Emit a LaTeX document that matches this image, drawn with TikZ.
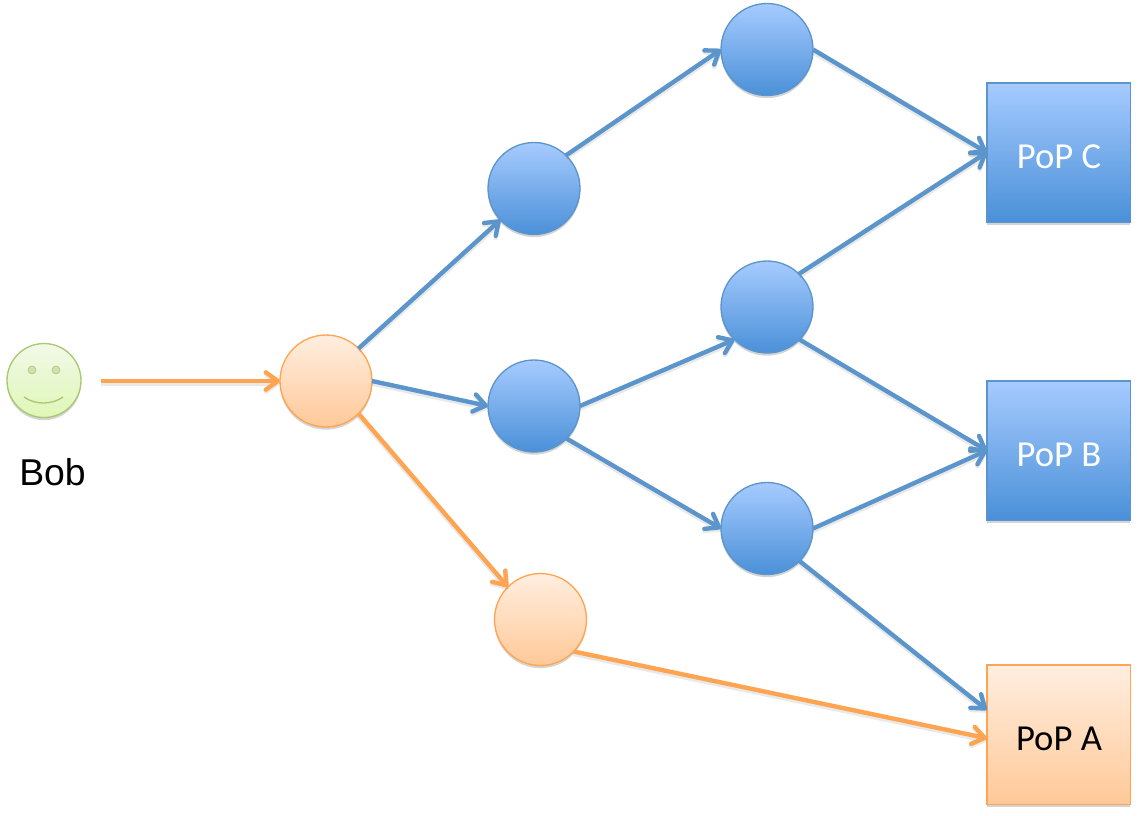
\documentclass[tikz,border=0pt]{standalone}
\usepackage{fontspec}
\setmainfont{Carlito}
\newfontfamily\arialf{Liberation Sans}
\usetikzlibrary{arrows.meta,shadows}
\definecolor{bluetop}{HTML}{A6CBFF}
\definecolor{bluebot}{HTML}{4A90D8}
\definecolor{blueline}{HTML}{5B95CC}
\definecolor{orangetop}{HTML}{FFEEE0}
\definecolor{orangebot}{HTML}{FFC998}
\definecolor{orangeline}{HTML}{FFA552}
\definecolor{greentop}{HTML}{F2F9E8}
\definecolor{greenbot}{HTML}{DFF7B6}
\definecolor{greenline}{HTML}{A9C871}
\tikzset{
  x=0.75pt,y=-0.75pt,
  softshadow/.style={drop shadow={shadow xshift=0pt,shadow yshift=-2pt,opacity=.28,fill=black!60}},
  basenode/.style={draw,line width=1pt,inner sep=0pt,outer sep=0pt,softshadow},
  bluefill/.style={basenode,draw=blueline,top color=bluetop,bottom color=bluebot},
  orangefill/.style={basenode,draw=orangeline,top color=orangetop,bottom color=orangebot},
  bluecirc/.style={bluefill,circle,minimum size=69pt},
  orangecirc/.style={orangefill,circle,minimum size=69pt},
  poplabel/.style={minimum width=107.5pt,minimum height=104.5pt,rectangle},
  poptext/.style={inner sep=0pt,font=\fontsize{27.5pt}{30pt}\selectfont},
  link/.style={line width=3.3pt,-{Straight Barb[length=9pt,width=13pt,line width=3.3pt,round]},
    preaction={draw=black!60,opacity=.14,line width=4pt,transform canvas={yshift=-1.6pt}}},
  bluelink/.style={link,draw=blueline},
  orangelink/.style={link,draw=orangeline},
}
\begin{document}
\begin{tikzpicture}
\useasboundingbox (0,0) rectangle (1138,815);

% nodes
\node[basenode,circle,minimum size=55.5pt,draw=greenline,top color=greentop,bottom color=greenbot] (bob) at (44,380.5) {};
\node[circle,minimum size=6pt,inner sep=0pt,fill=greenline!55!white,draw=greenline] (eyeL) at (32,370) {};
\node[circle,minimum size=6pt,inner sep=0pt,fill=greenline!55!white,draw=greenline] (eyeR) at (56,370) {};
\draw[greenline,line width=1pt] (24,397) .. controls (35,405) and (52,405) .. (63,397);
\node[font=\arialf\fontsize{28pt}{30pt}\selectfont,inner sep=0pt] (boblabel) at (52.5,472) {Bob};

\node[orangecirc] (o1) at (326,381) {};
\node[orangecirc] (o2) at (540.5,619.5) {};
\node[bluecirc] (b1) at (534,188.5) {};
\node[bluecirc] (b2) at (534,406) {};
\node[bluecirc] (top) at (767,49.5) {};
\node[bluecirc] (mid) at (767,307) {};
\node[bluecirc] (low) at (767,528.5) {};
\node[bluefill,poplabel] (popC) at (1058.5,152.5) {};
\node[bluefill,poplabel] (popB) at (1058.5,450.5) {};
\node[orangefill,poplabel] (popA) at (1058.5,734.5) {};
\node[poptext,text=white] (tC) at (1059,156.5) {PoP C};
\node[poptext,text=white] (tB) at (1059,454.5) {PoP B};
\node[poptext,text=black] (tA) at (1059,738.5) {PoP A};

% connectors
\coordinate (bobout) at (101,381);
\draw[orangelink] (bobout) -- (o1.west);
\draw[bluelink] (o1.45) -- (b1.223);
\draw[bluelink] (o1.east) -- (b2.west);
\draw[orangelink] (o1.-45) -- (o2.135);
\draw[bluelink] (b1.46) -- (top.west);
\draw[bluelink] (top.east) -- (popC.west);
\draw[bluelink] (mid.46) -- (popC.west);
\draw[bluelink] (b2.east) -- (mid.225);
\draw[bluelink] (mid.-45) -- (popB.west);
\draw[bluelink] (b2.-45) -- (low.west);
\draw[bluelink] (low.east) -- (popB.west);
\draw[bluelink] (low.-45) -- (popA.161);
\draw[orangelink] (o2.-44) -- (popA.183);
\end{tikzpicture}
\end{document}
